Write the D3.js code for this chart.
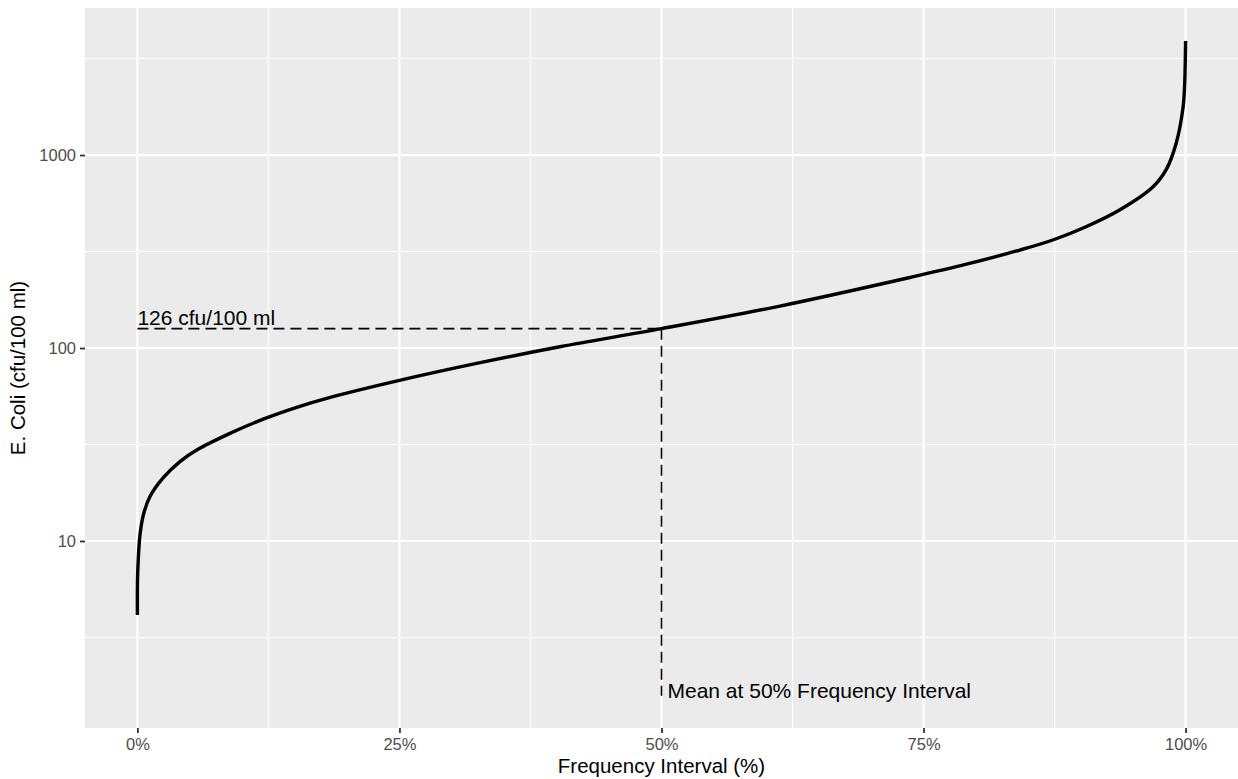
<!DOCTYPE html>
<html>
<head>
<meta charset="utf-8">
<script src="https://cdn.jsdelivr.net/npm/d3@7"></script>
<style>
  html, body { margin: 0; padding: 0; background: #ffffff; }
  svg { display: block; font-family: "Liberation Sans", Arial, Helvetica, sans-serif; }
</style>
</head>
<body>
<svg id="chart" width="1238" height="779"></svg>
<script>
// ---- Data ----
const pct = [0, 0.0001, 0.0009, 0.0025, 0.0056, 0.012, 0.0247, 0.0406, 0.0566, 0.0883,
             0.120, 0.152, 0.184, 0.25, 0.327, 0.403, 0.5, 0.613, 0.737, 0.79,
             0.842, 0.874, 0.905, 0.937, 0.969, 0.982, 0.991, 0.9975, 0.9990, 0.9996, 1.0];
const ecoli = [4.14, 6.28, 8.2, 10.8, 13.6, 17.0, 21.3, 25.8, 29.6, 36.1,
               42.8, 49.3, 55.5, 68.0, 84.0, 101.5, 126, 165, 232, 271,
               322, 364, 425, 519, 685, 850, 1150, 1750, 2250, 2900, 3900];

const xTicks = [0, 0.25, 0.5, 0.75, 1.0];
const xTickLabels = ["0%", "25%", "50%", "75%", "100%"];
const xMinor = [0.125, 0.375, 0.625, 0.875];
const yTicks = [10, 100, 1000];
const yTickLabels = ["10", "100", "1000"];
const yMinor = [3.1623, 31.623, 316.23, 3162.3];

const meanPct = 0.5;
const meanValue = 126;
const segmentBottom = 1.58;
const meanLabelY = 1.58;
const valueLabel = "126 cfu/100 ml";
const valueLabelY = 143;
const meanLabel = "Mean at 50% Frequency Interval";
const xTitle = "Frequency Interval (%)";
const yTitle = "E. Coli (cfu/100 ml)";

// ---- Layout ----
const panel = { left: 85, right: 1238, top: 8, bottom: 728 };
const svg = d3.select("#chart");

const x = d3.scaleLinear().domain([-0.05, 1.05]).range([panel.left, panel.right]);
const y = d3.scaleLog().domain([1.074, 5780]).range([panel.bottom, panel.top]);

// panel background
svg.append("rect")
  .attr("x", panel.left).attr("y", panel.top)
  .attr("width", panel.right - panel.left).attr("height", panel.bottom - panel.top)
  .attr("fill", "#EBEBEB");

const grid = svg.append("g");
// minor grid
grid.selectAll("line.ymin").data(yMinor).enter().append("line")
  .attr("x1", panel.left).attr("x2", panel.right)
  .attr("y1", d => y(d)).attr("y2", d => y(d))
  .attr("stroke", "#ffffff").attr("stroke-width", 1.1);
grid.selectAll("line.xmin").data(xMinor).enter().append("line")
  .attr("y1", panel.top).attr("y2", panel.bottom)
  .attr("x1", d => x(d)).attr("x2", d => x(d))
  .attr("stroke", "#ffffff").attr("stroke-width", 1.1);
// major grid
grid.selectAll("line.ymaj").data(yTicks).enter().append("line")
  .attr("x1", panel.left).attr("x2", panel.right)
  .attr("y1", d => y(d)).attr("y2", d => y(d))
  .attr("stroke", "#ffffff").attr("stroke-width", 2.2);
grid.selectAll("line.xmaj").data(xTicks).enter().append("line")
  .attr("y1", panel.top).attr("y2", panel.bottom)
  .attr("x1", d => x(d)).attr("x2", d => x(d))
  .attr("stroke", "#ffffff").attr("stroke-width", 2.2);

// dashed reference lines
svg.append("line")
  .attr("x1", x(0)).attr("x2", x(meanPct))
  .attr("y1", y(meanValue)).attr("y2", y(meanValue))
  .attr("stroke", "#000").attr("stroke-width", 1.6)
  .attr("stroke-dasharray", "11,6");
svg.append("line")
  .attr("x1", x(meanPct)).attr("x2", x(meanPct))
  .attr("y1", y(meanValue)).attr("y2", y(segmentBottom))
  .attr("stroke", "#000").attr("stroke-width", 1.6)
  .attr("stroke-dasharray", "11,6");

// curve
const pts = pct.map((p, i) => ({ p: p, v: ecoli[i] }));
const line = d3.line().x(d => x(d.p)).y(d => y(d.v)).curve(d3.curveCatmullRom.alpha(0.5));
svg.append("path").datum(pts)
  .attr("d", line)
  .attr("fill", "none").attr("stroke", "#000").attr("stroke-width", 3.4)
  .attr("stroke-linejoin", "round");

// annotations
svg.append("text")
  .attr("x", x(0)).attr("y", y(valueLabelY))
  .attr("dy", "0.35em")
  .attr("font-size", "21px").attr("fill", "#000")
  .text(valueLabel);
svg.append("text")
  .attr("x", x(meanPct) + 6).attr("y", y(meanLabelY))
  .attr("dy", "0.1em")
  .attr("font-size", "21px").attr("fill", "#000")
  .text(meanLabel);

// axes
const xAxis = d3.axisBottom(x).tickValues(xTicks)
  .tickFormat((d, i) => xTickLabels[i]).tickSize(5).tickPadding(5);
const gx = svg.append("g").attr("transform", `translate(0,${panel.bottom})`).call(xAxis);
gx.select(".domain").remove();
gx.selectAll(".tick line").attr("stroke", "#333333").attr("stroke-width", 1.8);
gx.selectAll(".tick text").attr("fill", "#4D4D4D").attr("font-size", "16.5px")
  .attr("font-family", "Liberation Sans, Arial, sans-serif");

const yAxis = d3.axisLeft(y).tickValues(yTicks)
  .tickFormat((d, i) => yTickLabels[i]).tickSize(5).tickPadding(4);
const gy = svg.append("g").attr("transform", `translate(${panel.left},0)`).call(yAxis);
gy.select(".domain").remove();
gy.selectAll(".tick line").attr("stroke", "#333333").attr("stroke-width", 1.8);
gy.selectAll(".tick text").attr("fill", "#4D4D4D").attr("font-size", "16.5px")
  .attr("font-family", "Liberation Sans, Arial, sans-serif");

// axis titles
svg.append("text")
  .attr("x", (panel.left + panel.right) / 2).attr("y", 773)
  .attr("text-anchor", "middle").attr("font-size", "20.5px").attr("fill", "#000")
  .text(xTitle);
svg.append("text")
  .attr("transform", `translate(25,${(panel.top + panel.bottom) / 2}) rotate(-90)`)
  .attr("text-anchor", "middle").attr("font-size", "20.5px").attr("fill", "#000")
  .text(yTitle);
</script>
</body>
</html>
